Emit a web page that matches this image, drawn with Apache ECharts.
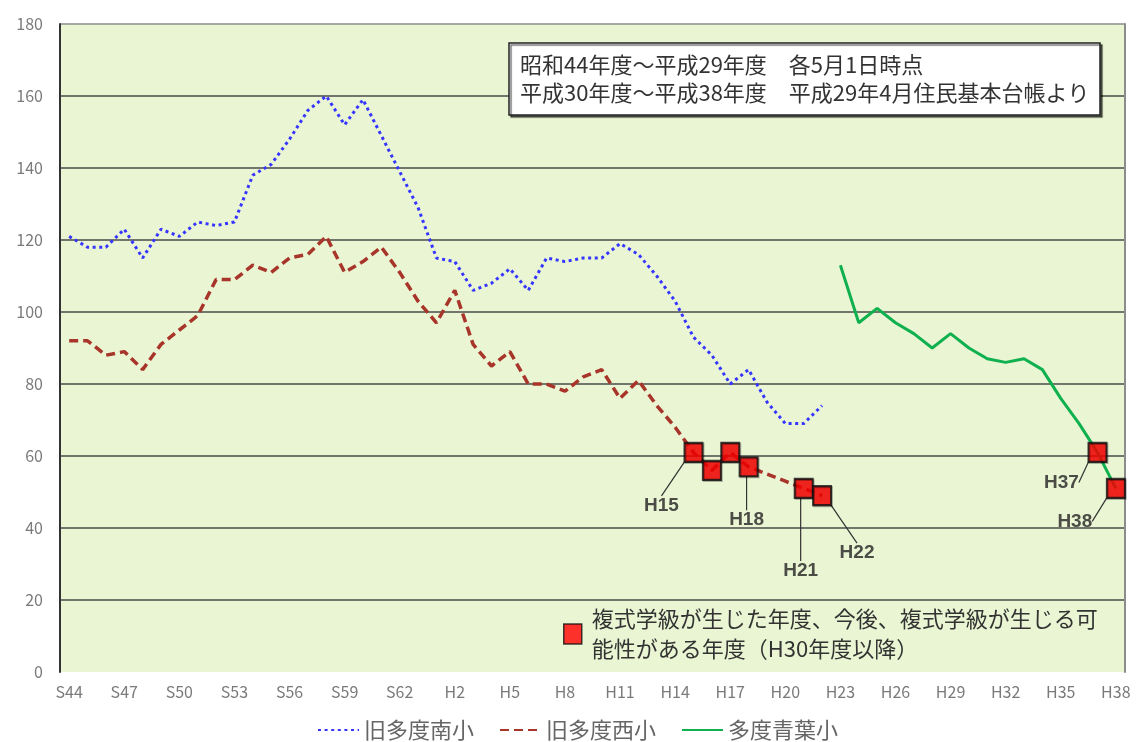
<!DOCTYPE html>
<html>
<head>
<meta charset="utf-8">
<script src="https://cdn.jsdelivr.net/npm/echarts@6/dist/echarts.min.js"></script>
<style>
  html, body { margin: 0; padding: 0; background: #fff; }
  #chart { width: 1136px; height: 742px; }
</style>
</head>
<body>
<div id="chart"></div>
<script>
// 年度 (S44 ～ H38)
const categories = [
  'S44', 'S45', 'S46', 'S47', 'S48', 'S49', 'S50', 'S51', 'S52', 'S53',
  'S54', 'S55', 'S56', 'S57', 'S58', 'S59', 'S60', 'S61', 'S62', 'S63',
  'H1', 'H2', 'H3', 'H4', 'H5', 'H6', 'H7', 'H8', 'H9', 'H10',
  'H11', 'H12', 'H13', 'H14', 'H15', 'H16', 'H17', 'H18', 'H19', 'H20',
  'H21', 'H22', 'H23', 'H24', 'H25', 'H26', 'H27', 'H28', 'H29', 'H30',
  'H31', 'H32', 'H33', 'H34', 'H35', 'H36', 'H37', 'H38'
]

// 旧多度南小 (S44 ～ H22)
const minamiVals = [
  121, 118, 118, 123, 115, 123, 121, 125, 124, 125,
  138, 141, 148, 156, 160, 152, 159, 149, 139, 129,
  115, 114, 106, 108, 112, 106, 115, 114, 115, 115,
  119, 116, 110, 103, 93, 88, 80, 84, 75, 69,
  69, 74
]

// 旧多度西小 (S44 ～ H22)
const nishiVals = [
  92, 92, 88, 89, 84, 91, 95, 99, 109, 109,
  113, 111, 115, 116, 121, 111, 114, 118, 111, 103,
  97, 106, 91, 85, 89, 80, 80, 78, 82, 84,
  76, 81, 74, 68, 61, 56, 61, 57, 55, 53,
  51, 49
]

// 多度青葉小 (H23 ～ H38)
const aobaStart = 'H23'
const aobaVals = [113, 97, 101, 97, 94, 90, 94, 90, 87, 86, 87, 84, 76, 69, 61, 51]

// 複式学級の年度
const fukushikiCats = ['H15', 'H16', 'H17', 'H18', 'H21', 'H22', 'H37', 'H38']
const fukushikiVals = [61, 56, 61, 57, 51, 49, 61, 51]
const fukushikiLabels = ['H15', '', '', 'H18', 'H21', 'H22', 'H37', 'H38']

const yTicks = [0, 20, 40, 60, 80, 100, 120, 140, 160, 180]

const seriesNames = ['旧多度南小', '旧多度西小', '多度青葉小']
const fukushikiName = '複式学級'
const fukushikiText = '複式学級が生じた年度、今後、複式学級が生じる可\n能性がある年度（H30年度以降）'
const noteText = '昭和44年度～平成29年度　各5月1日時点\n平成30年度～平成38年度　平成29年4月住民基本台帳より'

function padFrom(startCat, vals) {
  const start = categories.indexOf(startCat)
  return categories.map((c, i) => (i >= start && i - start < vals.length ? vals[i - start] : null))
}

// label offsets from each square (px)
const labelOffset = {
  H15: [-32, 53],
  H18: [-2, 53],
  H21: [-3, 82],
  H22: [35, 57],
  H37: [-36, 30],
  H38: [-41, 33],
}

const FONT = '"Noto Sans CJK JP", "Noto Sans", sans-serif'

const myChart = echarts.init(document.getElementById('chart'))

const option = {
  animation: false,
  textStyle: { fontFamily: FONT },
  title: {
    text: noteText,
    left: 509,
    top: 43,
    padding: [8, 11, 8, 11],
    backgroundColor: '#ffffff',
    borderColor: '#222',
    borderWidth: 1.5,
    shadowColor: 'rgba(0,0,0,0.55)',
    shadowOffsetX: 2,
    shadowOffsetY: 2,
    shadowBlur: 1,
    textStyle: {
      fontFamily: FONT,
      fontSize: 22,
      fontWeight: 'normal',
      lineHeight: 28,
      color: '#333',
    },
  },
  grid: {
    left: 60,
    right: 11,
    top: 24,
    bottom: 70,
    show: true,
    backgroundColor: '#eaf5d3',
    borderWidth: 0,
  },
  legend: [
    {
      data: seriesNames,
      left: 312,
      top: 714,
      itemWidth: 41,
      itemHeight: 14,
      itemGap: 25,
      itemStyle: { opacity: 0 },
      textStyle: { fontFamily: FONT, fontSize: 22, color: '#666' },
    },
    {
      data: [fukushikiName],
      left: 558,
      top: 599,
      icon: 'rect',
      itemWidth: 18,
      itemHeight: 20,
      itemStyle: { color: '#ff0000', borderColor: '#111', borderWidth: 1.5 },
      formatter: () => fukushikiText,
      textStyle: { fontFamily: FONT, fontSize: 22, lineHeight: 30, color: '#333', padding: [0, 0, 0, 5] },
    },
  ],
  xAxis: {
    type: 'category',
    data: categories,
    boundaryGap: true,
    axisLine: { show: false },
    axisTick: { show: false },
    axisLabel: {
      interval: 2,
      margin: 12,
      fontSize: 16,
      color: '#7a7a7a',
      fontFamily: FONT,
    },
  },
  yAxis: [
    {
      type: 'value',
      min: yTicks[0],
      max: yTicks[yTicks.length - 1],
      interval: 20,
      axisLine: { show: true, lineStyle: { color: '#333', width: 2 } },
      axisTick: { show: false },
      axisLabel: { margin: 17, fontSize: 16, color: '#7a7a7a', fontFamily: FONT },
      splitLine: {
        show: true,
        lineStyle: {
          width: 1.5,
          color: ['rgba(0,0,0,0)', '#4a4a4a', '#4a4a4a', '#4a4a4a', '#4a4a4a',
                  '#4a4a4a', '#4a4a4a', '#4a4a4a', '#4a4a4a', '#8c8c8c'],
        },
      },
    },
    {
      type: 'value',
      position: 'right',
      min: yTicks[0],
      max: yTicks[yTicks.length - 1],
      interval: 20,
      axisLine: { show: true, lineStyle: { color: '#8c8c8c', width: 2 } },
      axisTick: { show: false },
      axisLabel: { show: false },
      splitLine: { show: false },
    },
  ],
  series: [
    {
      name: seriesNames[0],
      type: 'line',
      symbol: 'none',
      data: padFrom('S44', minamiVals),
      lineStyle: { color: '#3535ff', width: 3, type: [3, 3.6] },
      itemStyle: { color: '#3535ff' },
      z: 3,
    },
    {
      name: seriesNames[1],
      type: 'line',
      symbol: 'none',
      data: padFrom('S44', nishiVals),
      lineStyle: { color: '#a8352a', width: 3.5, type: [9, 5] },
      itemStyle: { color: '#a8352a' },
      z: 3,
    },
    {
      name: seriesNames[2],
      type: 'line',
      symbol: 'none',
      data: padFrom(aobaStart, aobaVals),
      lineStyle: { color: '#0fb04e', width: 3 },
      itemStyle: { color: '#0fb04e' },
      z: 3,
    },
    {
      name: fukushikiName,
      type: 'scatter',
      symbol: 'rect',
      symbolSize: [18, 19],
      z: 5,
      itemStyle: { color: '#ff0000', borderColor: '#111', borderWidth: 2, shadowColor: 'rgba(0,0,0,0.35)', shadowOffsetX: 1, shadowOffsetY: 1 },
      label: {
        show: true,
        position: 'inside',
        formatter: (p) => fukushikiLabels[p.dataIndex],
        fontFamily: '"Liberation Sans", Arial, sans-serif',
        fontSize: 19,
        fontWeight: 'bold',
        color: '#222',
      },
      labelLine: { show: true, lineStyle: { color: '#333', width: 1.2 } },
      labelLayout: (p) => {
        const o = labelOffset[fukushikiLabels[p.dataIndex]]
        return o ? { dx: o[0], dy: o[1] } : {}
      },
      data: fukushikiCats.map((c, i) => ({
        value: [c, fukushikiVals[i]],
        label: { show: fukushikiLabels[i] !== '' },
        labelLine: { show: fukushikiLabels[i] !== '' },
      })),
    },
  ],
}

myChart.setOption(option)
</script>
</body>
</html>
